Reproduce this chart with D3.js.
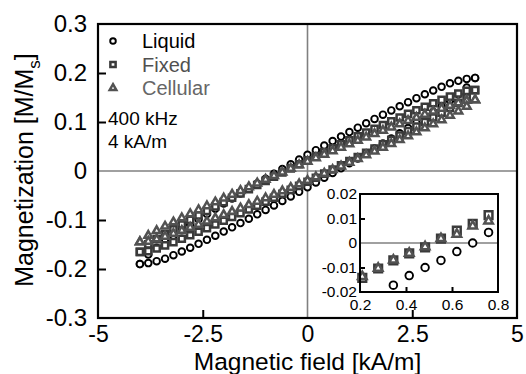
<!DOCTYPE html>
<html>
<head>
<meta charset="utf-8">
<script src="https://cdn.jsdelivr.net/npm/d3@7"></script>
<style>
  body { margin: 0; background: #fff; }
  svg { display: block; font-family: "Liberation Sans", Arial, sans-serif; }
</style>
</head>
<body>
<svg id="chart" width="526" height="374"></svg>
<script>
// field steps of the main loop [kA/m]
const field = [-4, -3.8, -3.6, -3.4, -3.2, -3, -2.8, -2.6, -2.4, -2.2, -2, -1.8, -1.6, -1.4, -1.2, -1, -0.8, -0.6, -0.4, -0.2,
  0, 0.2, 0.4, 0.6, 0.8, 1, 1.2, 1.4, 1.6, 1.8, 2, 2.2, 2.4, 2.6, 2.8, 3, 3.2, 3.4, 3.6, 3.8, 4];

// descending (upper) and ascending (lower) branches, M/Ms
const liquidUpper = [-0.19, -0.1702, -0.1566, -0.1441, -0.1322, -0.1207, -0.1094, -0.0984, -0.0876, -0.0769, -0.0664, -0.056, -0.0458, -0.0356, -0.0255, -0.0156, -0.0057, 0.0041, 0.0138, 0.0235,
  0.033, 0.0425, 0.0518, 0.0611, 0.0703, 0.0795, 0.0885, 0.0974, 0.1063, 0.115, 0.1236, 0.1321, 0.1404, 0.1486, 0.1566, 0.1643, 0.1718, 0.1789, 0.184, 0.188, 0.19];
const liquidLower = [-0.19, -0.188, -0.184, -0.1789, -0.1718, -0.1643, -0.1566, -0.1486, -0.1404, -0.1321, -0.1236, -0.115, -0.1063, -0.0974, -0.0885, -0.0795, -0.0703, -0.0611, -0.0518, -0.0425,
  -0.033, -0.0235, -0.0138, -0.0041, 0.0057, 0.0156, 0.0255, 0.0356, 0.0458, 0.056, 0.0664, 0.0769, 0.0876, 0.0984, 0.1094, 0.1207, 0.1322, 0.1441, 0.1566, 0.1702, 0.19];
const fixedUpper = [-0.165, -0.1499, -0.1389, -0.1287, -0.1188, -0.1092, -0.0998, -0.0905, -0.0814, -0.0724, -0.0635, -0.0546, -0.0458, -0.0371, -0.0285, -0.02, -0.0114, -0.003, 0.0054, 0.0137,
  0.022, 0.0302, 0.0384, 0.0465, 0.0546, 0.0626, 0.0705, 0.0784, 0.0862, 0.0939, 0.1016, 0.1091, 0.1166, 0.124, 0.1312, 0.1383, 0.1452, 0.1518, 0.1581, 0.1636, 0.165];
const fixedLower = [-0.165, -0.1636, -0.1581, -0.1518, -0.1452, -0.1383, -0.1312, -0.124, -0.1166, -0.1091, -0.1016, -0.0939, -0.0862, -0.0784, -0.0705, -0.0626, -0.0546, -0.0465, -0.0384, -0.0302,
  -0.022, -0.0137, -0.0054, 0.003, 0.0114, 0.02, 0.0285, 0.0371, 0.0458, 0.0546, 0.0635, 0.0724, 0.0814, 0.0905, 0.0998, 0.1092, 0.1188, 0.1287, 0.1389, 0.1499, 0.165];
const cellUpper = [-0.145, -0.1317, -0.122, -0.113, -0.1043, -0.0959, -0.0876, -0.0794, -0.0714, -0.0635, -0.0556, -0.0478, -0.0401, -0.0325, -0.0249, -0.0174, -0.0099, -0.0025, 0.0049, 0.0122,
  0.0195, 0.0267, 0.0339, 0.041, 0.0481, 0.0551, 0.0621, 0.069, 0.0759, 0.0827, 0.0894, 0.096, 0.1026, 0.1091, 0.1154, 0.1217, 0.1277, 0.1335, 0.139, 0.1438, 0.145];
const cellLower = [-0.145, -0.1438, -0.139, -0.1335, -0.1277, -0.1217, -0.1154, -0.1091, -0.1026, -0.096, -0.0894, -0.0827, -0.0759, -0.069, -0.0621, -0.0551, -0.0481, -0.041, -0.0339, -0.0267,
  -0.0195, -0.0122, -0.0049, 0.0025, 0.0099, 0.0174, 0.0249, 0.0325, 0.0401, 0.0478, 0.0556, 0.0635, 0.0714, 0.0794, 0.0876, 0.0959, 0.1043, 0.113, 0.122, 0.1317, 0.145];

// inset: zero crossing of the ascending branch
const insetLiquidH = [0.345, 0.414, 0.483, 0.552, 0.621, 0.69, 0.759];
const insetLiquidM = [-0.0172, -0.0133, -0.01, -0.0071, -0.0035, 0, 0.0043];
const insetFixedH = [0.21, 0.279, 0.345, 0.414, 0.483, 0.552, 0.621, 0.69, 0.759];
const insetFixedM = [-0.0142, -0.0104, -0.0071, -0.0042, -0.0018, 0.0018, 0.0051, 0.0078, 0.0114];
const insetCellM = [-0.0137, -0.0103, -0.007, -0.0042, -0.0015, 0.0018, 0.0036, 0.0069, 0.009];

const xTicks = [-5, -2.5, 0, 2.5, 5];
const yTicks = [-0.3, -0.2, -0.1, 0, 0.1, 0.2, 0.3];
const insetXTicks = [0.2, 0.4, 0.6, 0.8];
const insetYTicks = [-0.02, -0.01, 0, 0.01, 0.02];

const seriesNames = ["Liquid", "Fixed", "Cellular"];
const textColors = ["#000", "#505050", "#666"];

const svg = d3.select("#chart");
// plain hyphen for negatives, as in the original figure
const fmt = d => d3.format("~g")(d).replace("\u2212", "-");

const x = d3.scaleLinear().domain([-5, 5]).range([98, 517]);
const y = d3.scaleLinear().domain([-0.3, 0.3]).range([318, 24]);

// marker drawing
function marker(g, kind, cx, cy, s) {
  if (kind === 0) {
    g.append("circle").attr("cx", cx).attr("cy", cy).attr("r", 3.3 * s)
      .attr("fill", "#fff").attr("stroke", "#000").attr("stroke-width", 1.9);
  } else if (kind === 1) {
    g.append("path").attr("transform", "translate(" + cx + "," + cy + ")")
      .attr("d", d3.symbol(d3.symbolSquare, 38 * s * s)())
      .attr("fill", "#fff").attr("stroke", "#3a3a3a").attr("stroke-width", 2.5);
  } else {
    g.append("path").attr("transform", "translate(" + cx + "," + cy + ")")
      .attr("d", d3.symbol(d3.symbolTriangle, 26 * s * s)())
      .attr("fill", "#fff").attr("stroke", "#525252").attr("stroke-width", 2.5);
  }
}

// zero lines
svg.append("line").attr("x1", x(0)).attr("x2", x(0)).attr("y1", y(0.3)).attr("y2", y(-0.3))
  .attr("stroke", "#808080").attr("stroke-width", 1.6);
svg.append("line").attr("x1", x(-5)).attr("x2", x(5)).attr("y1", y(0)).attr("y2", y(0))
  .attr("stroke", "#808080").attr("stroke-width", 1.6);

// axes
const yAxis = d3.axisLeft(y).tickValues(yTicks).tickSizeInner(-8).tickSizeOuter(0).tickPadding(11)
  .tickFormat(d => d === 0 ? "0" : d3.format(".1f")(d).replace("\u2212", "-"));
const xAxis = d3.axisBottom(x).tickValues(xTicks).tickSizeInner(-8).tickSizeOuter(0).tickPadding(8)
  .tickFormat(fmt);

const gy = svg.append("g").attr("transform", "translate(98,0)").call(yAxis);
const gx = svg.append("g").attr("transform", "translate(0,318)").call(xAxis);
[gx, gy].forEach(g => {
  g.select(".domain").remove();
  g.selectAll(".tick line").attr("stroke", "#000").attr("stroke-width", 2)
    .filter(d => d === 0 || Math.abs(d) === 0.3 || Math.abs(d) === 5).remove();
  g.selectAll(".tick text").attr("fill", "#000").style("font-size", g === gx ? "23px" : "24px")
    .style("font-family", "'Liberation Sans', Arial, sans-serif");
});

// points
const pts = svg.append("g");
const branches = [[liquidUpper, liquidLower], [fixedUpper, fixedLower], [cellUpper, cellLower]];
branches.forEach((pair, k) => {
  pair.forEach(vals => {
    vals.forEach((m, i) => marker(pts, k, x(field[i]), y(m), 1));
  });
});

// frame
svg.append("rect").attr("x", 98).attr("y", 24).attr("width", 419).attr("height", 294)
  .attr("fill", "none").attr("stroke", "#000").attr("stroke-width", 2.2);

// legend
const leg = svg.append("g");
seriesNames.forEach((name, k) => {
  const ly = 41 + k * 23.5;
  marker(leg, k, 113, ly, 0.85);
  leg.append("text").attr("x", 142).attr("y", ly + 7).text(name)
    .attr("fill", textColors[k]).style("font-size", "20px");
});
leg.append("text").attr("x", 108).attr("y", 125).text("400 kHz").style("font-size", "19px");
leg.append("text").attr("x", 108).attr("y", 148).text("4 kA/m").style("font-size", "19px");

// axis titles
svg.append("text").attr("x", 307.5).attr("y", 370).attr("text-anchor", "middle")
  .style("font-size", "24.5px").text("Magnetic field [kA/m]");
const yt = svg.append("text").attr("transform", "translate(33,170) rotate(-90)")
  .attr("text-anchor", "middle").style("font-size", "25px");
yt.append("tspan").text("Magnetization [M/M");
yt.append("tspan").attr("dy", 7).style("font-size", "17px").text("s");
yt.append("tspan").attr("dy", -7).text("]");

// inset
const ix = d3.scaleLinear().domain([0.2, 0.8]).range([360, 498]);
const iy = d3.scaleLinear().domain([-0.02, 0.02]).range([292, 194]);
svg.append("rect").attr("x", 360).attr("y", 194).attr("width", 138).attr("height", 98).attr("fill", "#fff");
svg.append("line").attr("x1", 360).attr("x2", 498).attr("y1", iy(0)).attr("y2", iy(0))
  .attr("stroke", "#808080").attr("stroke-width", 1.6);

const iyAxis = d3.axisLeft(iy).tickValues(insetYTicks).tickSizeInner(-5).tickSizeOuter(0).tickPadding(3).tickFormat(fmt);
const ixAxis = d3.axisBottom(ix).tickValues(insetXTicks).tickSizeInner(-5).tickSizeOuter(0).tickPadding(7).tickFormat(fmt);
const giy = svg.append("g").attr("transform", "translate(360,0)").call(iyAxis);
const gix = svg.append("g").attr("transform", "translate(0,292)").call(ixAxis);
[gix, giy].forEach(g => {
  g.select(".domain").remove();
  g.selectAll(".tick line").attr("stroke", "#000").attr("stroke-width", 2)
    .filter(d => d === 0 || Math.abs(d) === 0.02 || d === 0.2 || d === 0.8).remove();
  g.selectAll(".tick text").attr("fill", "#000").style("font-size", "15.5px")
    .style("font-family", "'Liberation Sans', Arial, sans-serif");
});

const ipts = svg.append("g");
insetLiquidH.forEach((h, i) => marker(ipts, 0, ix(h), iy(insetLiquidM[i]), 1.15));
insetFixedH.forEach((h, i) => marker(ipts, 1, ix(h), iy(insetFixedM[i]), 1.25));
insetFixedH.forEach((h, i) => marker(ipts, 2, ix(h), iy(insetCellM[i]), 1.1));

svg.append("rect").attr("x", 360).attr("y", 194).attr("width", 138).attr("height", 98)
  .attr("fill", "none").attr("stroke", "#000").attr("stroke-width", 2);
</script>
</body>
</html>
